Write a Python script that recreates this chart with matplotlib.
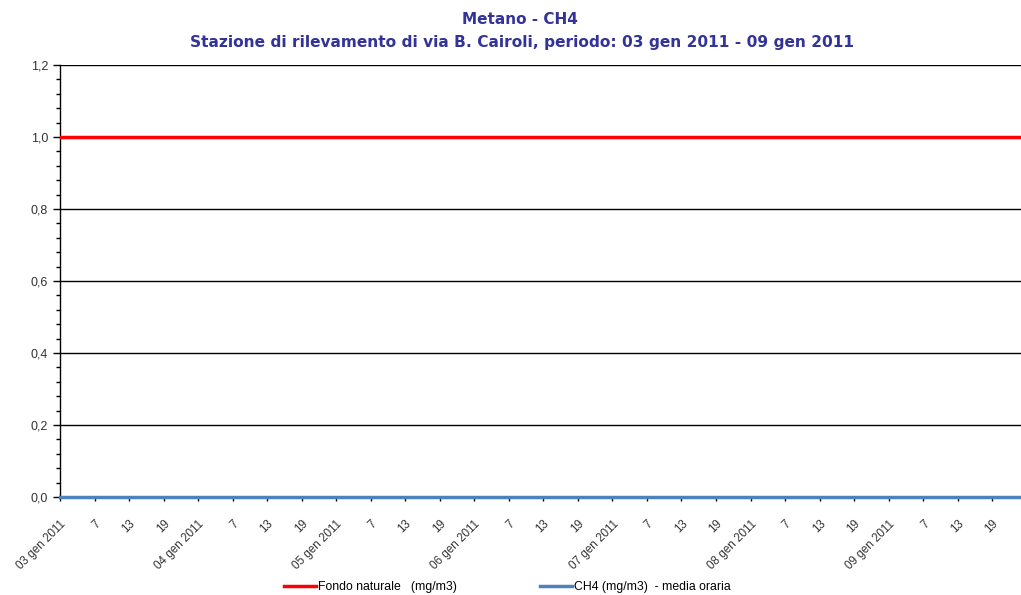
import numpy as np
import matplotlib
matplotlib.use('Agg')
import matplotlib.pyplot as plt
from matplotlib.ticker import MultipleLocator

# Data
days = ['03 gen 2011', '04 gen 2011', '05 gen 2011', '06 gen 2011',
        '07 gen 2011', '08 gen 2011', '09 gen 2011']
hour_labels = ['7', '13', '19']
n_hours = 168
hours = list(range(n_hours))
ch4_hourly = [0.0] * n_hours          # CH4 (mg/m3) - media oraria
fondo_naturale = [1.0] * n_hours      # Fondo naturale (mg/m3)

title_color = '#333399'
text_color = '#333333'

fig = plt.figure(figsize=(10.21, 5.95), dpi=100)
ax = fig.add_axes([60 / 1021, 1 - 497 / 595, 1 - 60 / 1021, (497 - 65) / 595])

ax.set_ylim(0, 1.2)
ax.set_xlim(0, n_hours - 1)

# horizontal grid lines
for y in [0.2, 0.4, 0.6, 0.8, 1.2]:
    ax.axhline(y, color='black', lw=1.0, zorder=1)

ax.plot(hours, fondo_naturale, color='#ff0000', lw=2.5, zorder=3,
        label='Fondo naturale   (mg/m3)')
ax.plot(hours, ch4_hourly, color='#4f81bd', lw=2.5, zorder=3, clip_on=False,
        label='CH4 (mg/m3)  - media oraria')

for s in ['top', 'right', 'bottom']:
    ax.spines[s].set_visible(False)
ax.spines['left'].set_color('black')
ax.spines['left'].set_linewidth(1.0)

ax.yaxis.set_major_locator(MultipleLocator(0.2))
ax.yaxis.set_minor_locator(MultipleLocator(0.04))
ax.set_yticklabels([f'{v:.1f}'.replace('.', ',') for v in ax.get_yticks()])
ax.tick_params(axis='y', which='major', length=5, width=1, labelsize=9,
               labelcolor=text_color, labelfontfamily='Liberation Sans')
ax.tick_params(axis='y', which='minor', length=3, width=1)

xt = list(range(0, n_hours, 6))
xl = []
for i, _ in enumerate(xt):
    if i % 4 == 0:
        xl.append(days[i // 4])
    else:
        xl.append(hour_labels[i % 4 - 1])
ax.set_xticks(xt)
ax.set_xticklabels(xl, rotation=45, ha='right', rotation_mode='anchor',
                   fontsize=8.4, color=text_color, family='Liberation Sans')
ax.tick_params(axis='x', length=3, width=1, pad=12)

fig.text(0.509, 0.968, 'Metano - CH4', ha='center', va='center',
         fontsize=11, fontweight='bold', color=title_color)
fig.text(0.511, 0.928,
         'Stazione di rilevamento di via B. Cairoli, periodo: 03 gen 2011 - 09 gen 2011',
         ha='center', va='center', fontsize=11.1, fontweight='bold', color=title_color)

fig.legend(loc='center', bbox_to_anchor=(0.497, 0.013), ncol=2, frameon=False,
           prop={'family': 'Liberation Sans', 'size': 8.8}, handlelength=2.6,
           handletextpad=0.2, columnspacing=6.8)

fig.savefig('out.png', dpi=100)
